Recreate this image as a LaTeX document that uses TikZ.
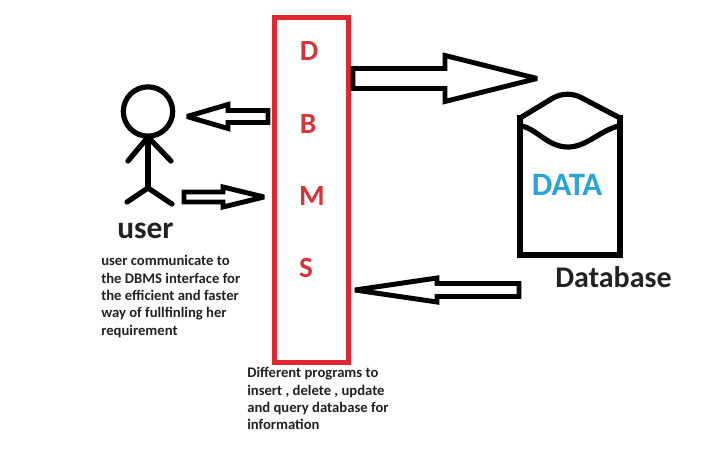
\documentclass[tikz,border=0pt]{standalone}
\usepackage{fontspec}
\setmainfont{Carlito}
\usetikzlibrary{calc}
\definecolor{dbmsred}{HTML}{E0262F}
\definecolor{letterred}{HTML}{D6353C}
\definecolor{dataBlue}{HTML}{2AA3D8}
\definecolor{inkgray}{HTML}{222222}

% outlined block arrow: from, tip, half shaft, half head, head base offset from tip
\newcommand{\blockarrow}[5]{%
  \draw[hollow] ($(#1)+(0,-#3)$) -- ($(#2)+(#5,-#3)$) -- ($(#2)+(#5,-#4)$) -- (#2)
    -- ($(#2)+(#5,#4)$) -- ($(#2)+(#5,#3)$) -- ($(#1)+(0,#3)$) -- cycle;}

\begin{document}
\begin{tikzpicture}[
    x=0.75pt, y=-0.75pt,
    hollow/.style={draw=black, fill=white, line width=3.7pt, line join=miter, miter limit=3},
    figure/.style={draw=black, line width=3.9pt, line cap=round, line join=round},
    letter/.style={font=\bfseries\fontsize{22}{24}\selectfont, text=letterred},
    title/.style={font=\bfseries\fontsize{22.5}{24}\selectfont, text=inkgray},
    note/.style={font=\bfseries\fontsize{11}{13.1}\selectfont, text=inkgray, align=left,
                 anchor=north west, inner sep=0pt},
]
\useasboundingbox (0,0) rectangle (717,451);

% DBMS column with its letters
\node[draw=dbmsred, line width=3.8pt, minimum width=55.5pt, minimum height=258.5pt,
      inner sep=0pt, outer sep=0pt] (dbms) at (311.5,190) {};
\node[letter] (letterD) at (309,51) {D};
\node[letter] (letterB) at (308,124) {B};
\node[letter] (letterM) at (312,196) {M};
\node[letter] (letterS) at (306,268) {S};

% stick figure
\node[circle, draw=black, line width=3.9pt, minimum size=37pt, inner sep=0pt, outer sep=0pt]
    (head) at (148,111.5) {};
\coordinate (neck) at (148,137);
\coordinate (hip) at (148,188);
\draw[figure] (head.south) -- (hip);
\draw[figure] (neck) -- (128,161);
\draw[figure] (neck) -- (171,161);
\draw[figure] (hip) -- (127,202);
\draw[figure] (hip) -- (172,204);
\node[title, font=\bfseries\fontsize{23.5}{24}\selectfont] (user) at (145.5,231) {user};

% database drum
\draw[figure, line cap=butt, line join=miter] (520,115) -- (520,255) -- (620,255) -- (620,115);
\draw[figure] (520,118) -- (553,98) .. controls (562,93) and (573,93) .. (582,98) -- (620,118);
\draw[figure] (522,126) .. controls (538,130) and (548,147) .. (568,147)
    .. controls (586,147) and (598,132) .. (618,126);
\node[font=\bfseries\fontsize{24.5}{26}\selectfont, text=dataBlue] (data) at (567,185) {DATA};
\node[title] (database) at (613.5,277) {Database};

% arrow ends
\coordinate (toUserStart) at (268,116.5);
\coordinate (toUserTip) at (187,116.5);
\coordinate (fromUserStart) at (184,197);
\coordinate (fromUserTip) at (264,197);
\coordinate (toDbStart) at (353,78.5);
\coordinate (toDbTip) at (537,78.5);
\coordinate (fromDbStart) at (519,290);
\coordinate (fromDbTip) at (355,290);

\blockarrow{toUserStart}{toUserTip}{6}{12}{41}
\blockarrow{fromUserStart}{fromUserTip}{5}{10}{-41}
\blockarrow{toDbStart}{toDbTip}{10}{23}{-92}
\blockarrow{fromDbStart}{fromDbTip}{6.5}{12}{82}

% notes
\node[note] (userNote) at (101,255) {user communicate to\\the DBMS interface for\\the efficient and faster\\way of fullfinling her\\requirement};
\node[note] (dbmsNote) at (247,367) {Different programs to\\insert , delete , update\\and query database for\\information};

\end{tikzpicture}
\end{document}
